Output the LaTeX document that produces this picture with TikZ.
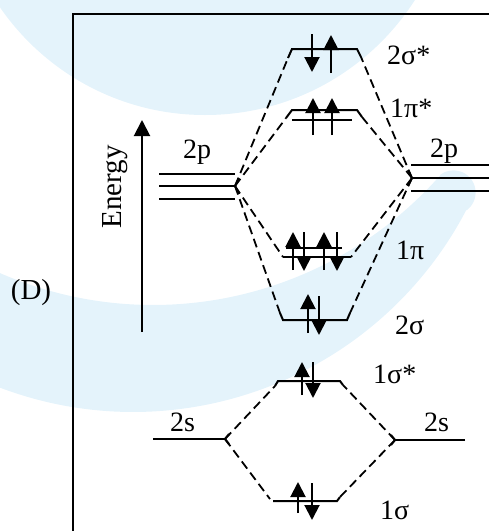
\documentclass[tikz,border=0pt]{standalone}
\usepackage{fontspec}
\setmainfont{Liberation Serif}
\usetikzlibrary{arrows.meta}
\definecolor{wm}{RGB}{228,243,251}
\begin{document}
\begin{tikzpicture}[x=1pt,y=-1pt,
  lvl/.style={line width=2pt},
  mo/.style={line width=1.8pt, dash pattern=on 9pt off 5pt},
  el/.style={line width=2pt,-{Triangle[length=15pt,width=15pt]}},
  lab/.style={font=\fontsize{28}{32}\selectfont, inner sep=0pt, anchor=base west},
  big/.style={font=\fontsize{29}{33}\selectfont, inner sep=0pt},
]
\useasboundingbox (0,0) rectangle (489,531);
% watermark
\begin{scope}
\clip (0,0) rectangle (489,531);
\fill[wm] (205,-134) circle[radius=249pt];
\fill[wm] plot[domain=118:27.6,samples=80] ({133+376*cos(\x)},{36+376*sin(\x)})
  -- plot[domain=52.4:-127.6,samples=30] ({453.5+22.1*cos(\x)},{192.5+22.1*sin(\x)})
  -- plot[domain=41.4:120,samples=80] ({153+383*cos(\x)},{-78+383*sin(\x)}) -- cycle;
\end{scope}
% frame
\draw[line width=2pt] (73,540) -- (73,14) -- (495,14);
% energy axis
\coordinate (eb) at (142,332);
\coordinate (et) at (142,120);
\draw[line width=2pt,-{Triangle[length=16pt,width=16pt]}] (eb) -- (et);
\node[big,rotate=90] (energy) at (115,187) {Energy};
\node[big] (D) at (31,293) {(D)};
% atomic levels
\coordinate (LJ) at (235,186);
\coordinate (RJ) at (412,178);
\draw[lvl] (159,174) -- (235,174) (159,186) -- (LJ) (159,199) -- (235,199);
\draw[lvl] (239,178) -- (LJ) -- (239,194);
\draw[lvl] (489,165) -- (411,165) (489,178) -- (RJ) (489,191) -- (411,191);
\draw[lvl] (408,170) -- (RJ) -- (408,186);
\coordinate (LS) at (225,439);
\coordinate (RS) at (395,440);
\draw[lvl] (153,439) -- (LS);
\draw[lvl] (229,434) -- (LS) -- (229,444);
\draw[lvl] (465,440) -- (RS);
\draw[lvl] (391,435) -- (RS) -- (391,445);
\node[lab] (l2pL) at (183,158) {2p};
\node[lab] (l2pR) at (430,157) {2p};
\node[lab] (l2sL) at (170,431) {2s};
\node[lab] (l2sR) at (424,431) {2s};
% molecular levels
\coordinate (ssL) at (288,58);  \coordinate (ssR) at (361,57);
\draw[lvl] (ssL) -- (292,49) -- (357,49) -- (ssR);
\coordinate (ppL) at (286,118); \coordinate (ppR) at (362,117);
\draw[lvl] (ppL) -- (292,110) -- (357,110) -- (ppR);
\draw[lvl] (292,120) -- (352,120);
\coordinate (pL) at (283,257); \coordinate (pR) at (351,257);
\draw[lvl] (286,248) -- (342,248);
\draw[lvl] (pL) -- (pR);
\coordinate (sL) at (280,313); \coordinate (sR) at (350,313);
\draw[lvl] (sL) -- (283,320) -- (347,320) -- (sR);
\coordinate (osL) at (275,386); \coordinate (osR) at (343,385);
\draw[lvl] (osL) -- (278,381) -- (340,381) -- (osR);
\coordinate (oL) at (270,499); \coordinate (oR) at (340,497);
\draw[lvl] (273,501) -- (337,501) -- (oR);
% connectors
\draw[mo] (LJ) -- (ssL);
\draw[mo] (LJ) -- (ppL);
\draw[mo] (LJ) -- (pL);
\draw[mo] (LJ) -- (sL);
\draw[mo] (RJ) -- (ssR);
\draw[mo] (RJ) -- (ppR);
\draw[mo] (RJ) -- (pR);
\draw[mo] (RJ) -- (sR);
\draw[mo] (LS) -- (osL);
\draw[mo] (LS) -- (oL);
\draw[mo] (RS) -- (osR);
\draw[mo] (RS) -- (oR);
% electrons
\draw[el] (312,34) -- (312,72);
\draw[el] (331,73) -- (331,35);
\draw[el] (313,135) -- (313,98);
\draw[el] (332,135) -- (332,98);
\draw[el] (293,270) -- (293,232);
\draw[el] (304,232) -- (304,271);
\draw[el] (324,270) -- (324,232);
\draw[el] (337,232) -- (337,271);
\draw[el] (308,333) -- (308,294);
\draw[el] (319,296) -- (319,335);
\draw[el] (302,395) -- (302,362);
\draw[el] (313,362) -- (313,398);
\draw[el] (298,513) -- (298,482);
\draw[el] (312,483) -- (312,520);
% MO labels
\node[lab] (m1) at (387,64) {2σ*};
\node[lab] (m2) at (390,117) {1π*};
\node[lab] (m3) at (396,259) {1π};
\node[lab] (m4) at (395,334) {2σ};
\node[lab] (m5) at (373,383) {1σ*};
\node[lab] (m6) at (380,519) {1σ};
\end{tikzpicture}
\end{document}
